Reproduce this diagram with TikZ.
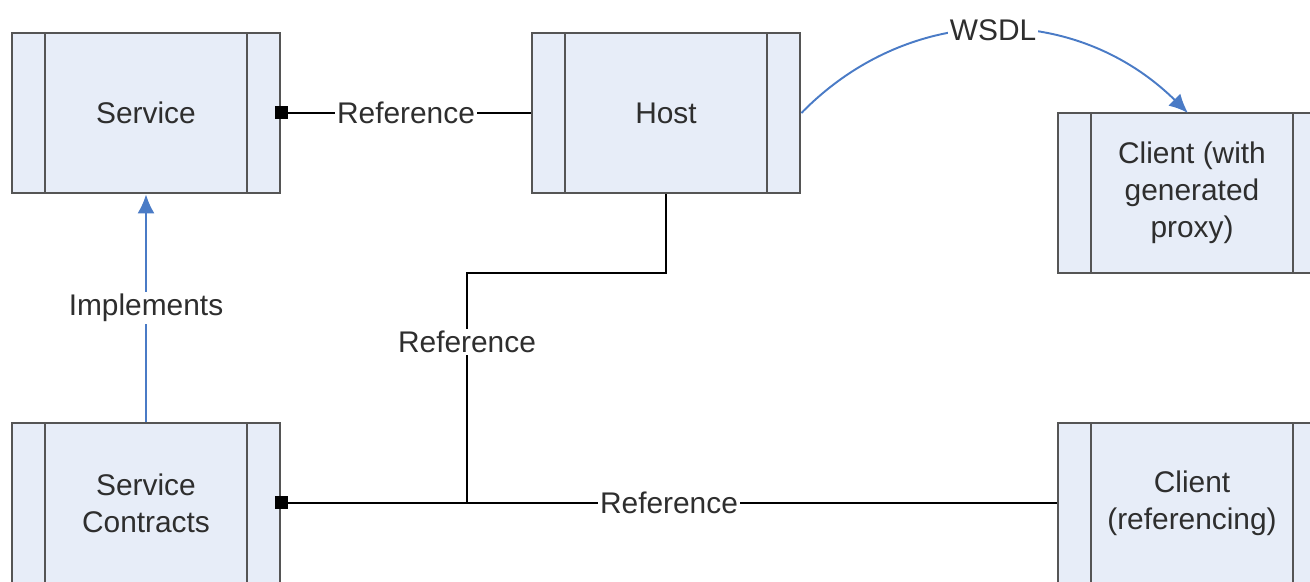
\documentclass[tikz,border=0pt]{standalone}
\usepackage{fontspec}
\setmainfont{Liberation Sans}
\usepackage{tikz}
\usetikzlibrary{arrows, arrows.meta, positioning}

\definecolor{boxfill}{HTML}{E7EDF8}
\definecolor{boxline}{HTML}{555555}
\definecolor{linkblue}{HTML}{4A7BC6}
\definecolor{textgray}{HTML}{2E2E2E}

\begin{document}
\begin{tikzpicture}[
    component/.style={rectangle, draw=boxline, line width=1.6pt, fill=boxfill, minimum width=5.36cm, minimum height=3.2cm, align=center, text=textgray, font=\fontsize{17}{21}\selectfont,
        path picture={
            \draw[boxline, line width=1.6pt] ([xshift=0.66cm]path picture bounding box.north west) -- ([xshift=0.66cm]path picture bounding box.south west);
            \draw[boxline, line width=1.6pt] ([xshift=-0.66cm]path picture bounding box.north east) -- ([xshift=-0.66cm]path picture bounding box.south east);
        }},
    reference/.style={draw=black, line width=1.1pt},
    refend/.style={reference, {Square[length=0.26cm, width=0.26cm]}-, shorten <=-0.12cm},
    implements/.style={draw=linkblue, line width=1.1pt, -{Latex[length=0.38cm, width=0.34cm]}},
    tag/.style={fill=white, inner sep=1pt, text=textgray, font=\fontsize{17}{21}\selectfont}
]
\useasboundingbox (0,0) rectangle (26.2,11.64);
\clip (0,0) rectangle (26.2,11.64);

% Components
\node[component] (service) at (2.92,9.38) {Service};
\node[component] (host) at (13.32,9.38) {Host};
\node[component] (proxy) at (23.84,7.78) {Client (with\\generated\\proxy)};
\node[component] (contracts) at (2.92,1.58) {Service\\Contracts};
\node[component] (client) at (23.84,1.58) {Client\\(referencing)};

% Reference links
\draw[refend] (service.east) -- node[tag] {Reference} (host.west);
\draw[refend] (contracts.east) -- node[tag, pos=0.5] {Reference} (client.west);

\coordinate (bend) at (9.34,6.18);
\coordinate (join) at (9.34,1.58);
\draw[reference] (host.south) -- (host.south |- bend) -- (bend) -- node[tag, pos=0.3] {Reference} (join);

% WSDL link
\coordinate (proxytop) at (23.76,9.38);
\draw[implements] (host.east) .. controls (18.2,11.6) and (21.5,11.6) .. (proxytop)
    node[tag, pos=0.5] {WSDL};

% Implements link
\draw[implements] (contracts.north) -- node[tag] {Implements} (service.south);

\end{tikzpicture}
\end{document}
